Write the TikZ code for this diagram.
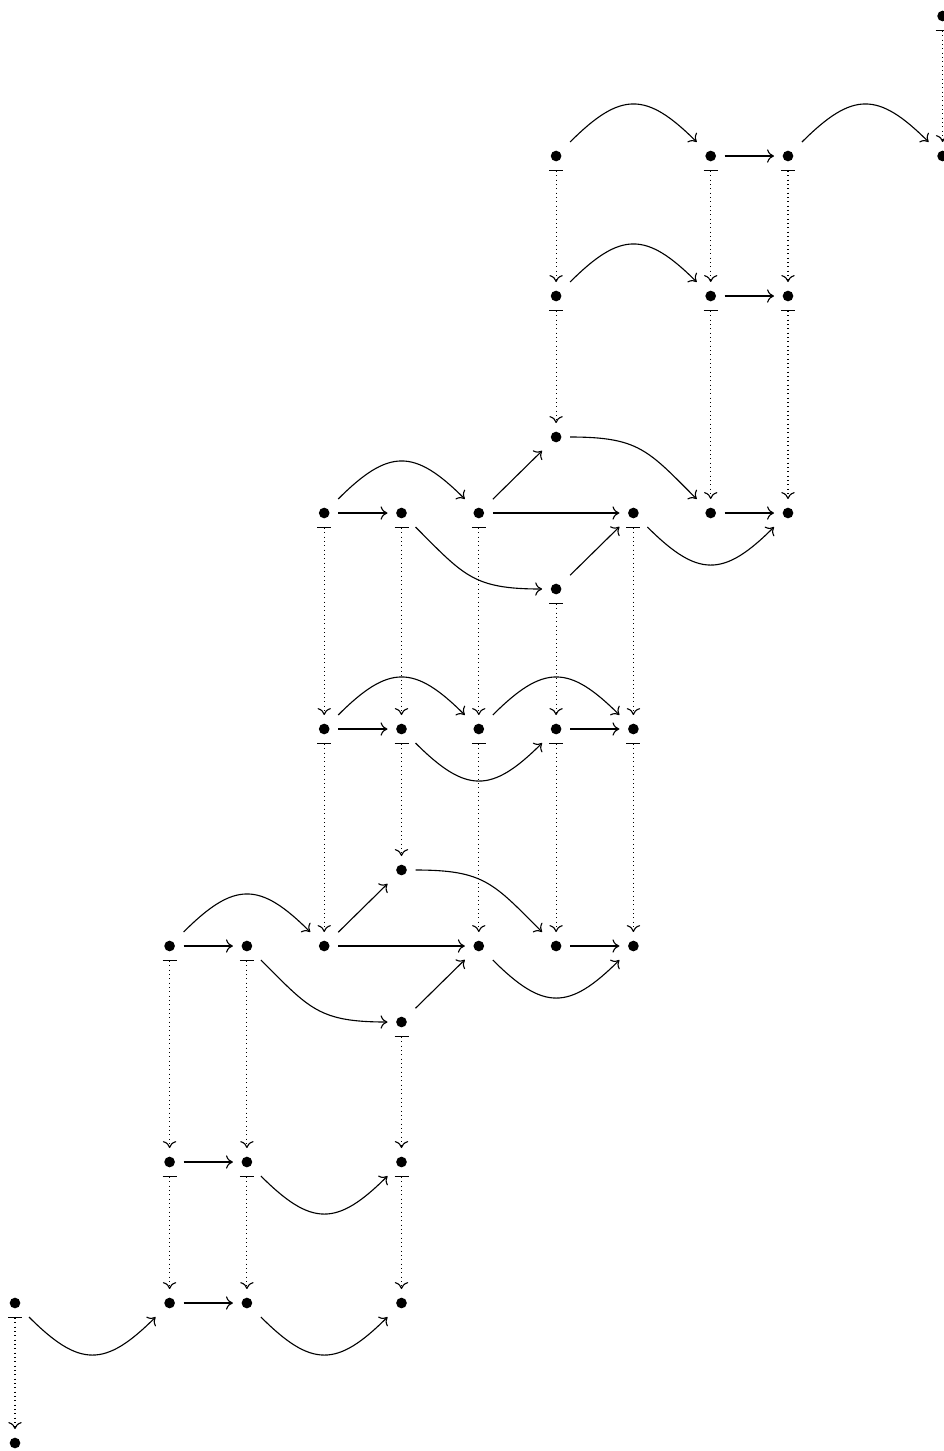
\documentclass[tikz,border=0pt]{standalone}
\usetikzlibrary{arrows.meta}
\tikzset{
  dot/.style={rectangle, inner sep=0pt, minimum size=12.2pt,
    path picture={\fill (path picture bounding box.center) circle (2.4pt);}},
  ar/.style={line width=0.5pt, -{Computer Modern Rightarrow[width=6pt,length=3.1pt]}},
  dar/.style={line width=0.5pt, dash pattern=on 0.5pt off 1.45pt,
    {Bar[width=6.3pt,line width=0.6pt]}-{Computer Modern Rightarrow[width=6pt,length=3.1pt]}},
  arcup/.style={out=45,in=135,looseness=1.45},
  arcdn/.style={out=-45,in=-135,looseness=1.45},
  sweepdn/.style={out=0,in=135,looseness=1.25},
  sweepin/.style={out=-45,in=180,looseness=1.25}
}
\begin{document}
\begin{tikzpicture}[x=0.45pt,y=-0.45pt]
\useasboundingbox (0,0) rectangle (944,1451);
% nodes
\node[dot] (A12) at (942.6,16) {};
\node[dot] (B7) at (556.1,156) {};
\node[dot] (B9) at (710.7,156) {};
\node[dot] (B10) at (788,156) {};
\node[dot] (B12) at (942.6,156) {};
\node[dot] (C7) at (556.1,296) {};
\node[dot] (C9) at (710.7,296) {};
\node[dot] (C10) at (788,296) {};
\node[dot] (D7) at (556.1,437) {};
\node[dot] (E4) at (324.2,513) {};
\node[dot] (E5) at (401.5,513) {};
\node[dot] (E6) at (478.8,513) {};
\node[dot] (E8) at (633.4,513) {};
\node[dot] (E9) at (710.7,513) {};
\node[dot] (E10) at (788,513) {};
\node[dot] (F7) at (556.1,589) {};
\node[dot] (G4) at (324.2,729) {};
\node[dot] (G5) at (401.5,729) {};
\node[dot] (G6) at (478.8,729) {};
\node[dot] (G7) at (556.1,729) {};
\node[dot] (G8) at (633.4,729) {};
\node[dot] (H5) at (401.5,870) {};
\node[dot] (I2) at (169.6,946) {};
\node[dot] (I3) at (246.9,946) {};
\node[dot] (I4) at (324.2,946) {};
\node[dot] (I6) at (478.8,946) {};
\node[dot] (I7) at (556.1,946) {};
\node[dot] (I8) at (633.4,946) {};
\node[dot] (J5) at (401.5,1022) {};
\node[dot] (K2) at (169.6,1162) {};
\node[dot] (K3) at (246.9,1162) {};
\node[dot] (K5) at (401.5,1162) {};
\node[dot] (L0) at (15,1303) {};
\node[dot] (L2) at (169.6,1303) {};
\node[dot] (L3) at (246.9,1303) {};
\node[dot] (L5) at (401.5,1303) {};
\node[dot] (M0) at (15,1443) {};
% solid arrows
\draw[ar] (B7) to[arcup] (B9);
\draw[ar] (B9) -- (B10);
\draw[ar] (B10) to[arcup] (B12);
\draw[ar] (C7) to[arcup] (C9);
\draw[ar] (C9) -- (C10);
\draw[ar] (D7) to[sweepdn] (E9);
\draw[ar] (E4) -- (E5);
\draw[ar] (E4) to[arcup] (E6);
\draw[ar] (E6) -- (D7);
\draw[ar] (E6) -- (E8);
\draw[ar] (E5) to[sweepin] (F7);
\draw[ar] (F7) -- (E8);
\draw[ar] (E8) to[arcdn] (E10);
\draw[ar] (E9) -- (E10);
\draw[ar] (G4) -- (G5);
\draw[ar] (G4) to[arcup] (G6);
\draw[ar] (G6) to[arcup] (G8);
\draw[ar] (G5) to[arcdn] (G7);
\draw[ar] (G7) -- (G8);
\draw[ar] (H5) to[sweepdn] (I7);
\draw[ar] (I2) -- (I3);
\draw[ar] (I2) to[arcup] (I4);
\draw[ar] (I4) -- (H5);
\draw[ar] (I4) -- (I6);
\draw[ar] (I3) to[sweepin] (J5);
\draw[ar] (J5) -- (I6);
\draw[ar] (I6) to[arcdn] (I8);
\draw[ar] (I7) -- (I8);
\draw[ar] (K2) -- (K3);
\draw[ar] (K3) to[arcdn] (K5);
\draw[ar] (L0) to[arcdn] (L2);
\draw[ar] (L2) -- (L3);
\draw[ar] (L3) to[arcdn] (L5);
% dotted maps-to arrows
\draw[dar] (A12) -- (B12);
\draw[dar] (B7) -- (C7);
\draw[dar] (C7) -- (D7);
\draw[dar] (B9) -- (C9);
\draw[dar] (C9) -- (E9);
\draw[dar] (B10) -- (C10);
\draw[dar] (C10) -- (E10);
\draw[dar] (E4) -- (G4);
\draw[dar] (E5) -- (G5);
\draw[dar] (E6) -- (G6);
\draw[dar] (F7) -- (G7);
\draw[dar] (E8) -- (G8);
\draw[dar] (G4) -- (I4);
\draw[dar] (G5) -- (H5);
\draw[dar] (G6) -- (I6);
\draw[dar] (G7) -- (I7);
\draw[dar] (G8) -- (I8);
\draw[dar] (I2) -- (K2);
\draw[dar] (I3) -- (K3);
\draw[dar] (J5) -- (K5);
\draw[dar] (K2) -- (L2);
\draw[dar] (K3) -- (L3);
\draw[dar] (K5) -- (L5);
\draw[dar] (L0) -- (M0);
\end{tikzpicture}
\end{document}
